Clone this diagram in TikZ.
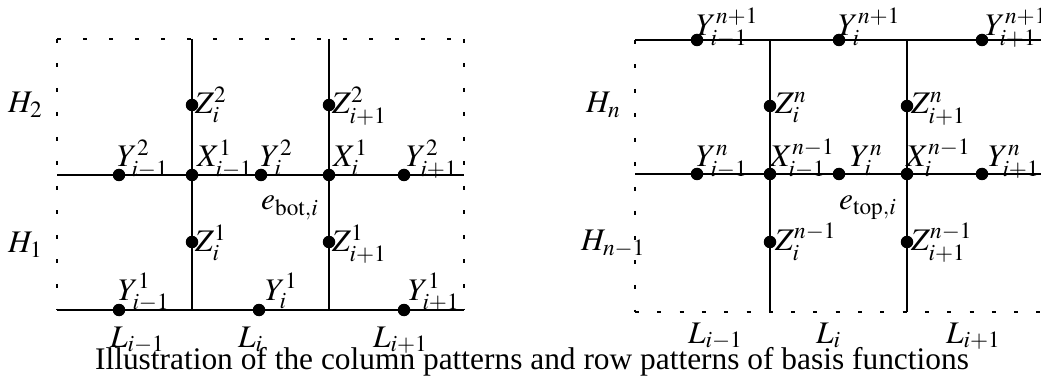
\documentclass[tikz,border=0pt]{standalone}
\usepackage{mathptmx}
\usepackage{fontspec}
\setmainfont{Liberation Serif}
\begin{document}
\begin{tikzpicture}[x=1pt,y=-1pt,
  font=\fontsize{31.4}{38}\selectfont,
  solid line/.style={line width=2pt},
  dash top/.style={line width=2pt,dash pattern=on 4pt off 22pt},
  dash side/.style={line width=2pt,dash pattern=on 4pt off 20.5pt},
  dash bot/.style={line width=2pt,dash pattern=on 4pt off 18.3pt},
  dot/.style={circle,fill=black,inner sep=0pt,minimum size=12.5pt},
  lab/.style={anchor=base west,inner sep=0pt}]
\useasboundingbox (0,0) rectangle (1041,379);
\clip (0,0) rectangle (1041,379);
% ---------- left grid ----------
\coordinate (LTL) at (57,39);   \coordinate (LTR) at (464,39);
\coordinate (LML) at (57,175);  \coordinate (LMR) at (464,175);
\coordinate (LBL) at (57,310);  \coordinate (LBR) at (464,310);
\coordinate (LAt) at (192,39);  \coordinate (LAb) at (192,310);
\coordinate (LBt) at (329,39);  \coordinate (LBb) at (329,310);
\draw[dash top] (LTL) -- (LTR);
\draw[dash side] (LTL) -- (LBL);
\draw[dash side] (LTR) -- (LBR);
\draw[solid line] (LML) -- (LMR);
\draw[solid line] (LBL) -- (LBR);
\draw[solid line] (LAt) -- (LAb);
\draw[solid line] (LBt) -- (LBb);
% dots
\node[dot] (Y2a) at (119,175) {};
\node[dot] (X1a) at (192,175) {};
\node[dot] (Y2b) at (261,175) {};
\node[dot] (X1b) at (329,175) {};
\node[dot] (Y2c) at (404,175) {};
\node[dot] (Z2a) at (192,105) {};
\node[dot] (Z2b) at (329,105) {};
\node[dot] (Z1a) at (192,242) {};
\node[dot] (Z1b) at (329,242) {};
\node[dot] (Y1a) at (119,310) {};
\node[dot] (Y1b) at (259,310) {};
\node[dot] (Y1c) at (404,310) {};
% labels
\node[lab] (lY2a) at (117,167) {$Y^2_{i-1}$};
\node[lab] (lX1a) at (197,167) {$X^1_{i-1}$};
\node[lab] (lY2b) at (260,167) {$Y^2_{i}$};
\node[lab] (lX1b) at (333,167) {$X^1_{i}$};
\node[lab] (lY2c) at (406,167) {$Y^2_{i+1}$};
\node[lab] (lZ2a) at (195,114) {$Z^2_{i}$};
\node[lab] (lZ2b) at (332,114) {$Z^2_{i+1}$};
\node[lab] (lZ1a) at (195,252) {$Z^1_{i}$};
\node[lab] (lZ1b) at (332,252) {$Z^1_{i+1}$};
\node[lab] (lY1a) at (118,300) {$Y^1_{i-1}$};
\node[lab] (lY1b) at (265,300) {$Y^1_{i}$};
\node[lab] (lY1c) at (408,300) {$Y^1_{i+1}$};
\node[lab] (ebot) at (261,210) {$e_{\mathrm{bot},i}$};
\node[lab] (H2) at (8,113) {$H_2$};
\node[lab] (H1) at (8,253) {$H_1$};
\node[lab] (La) at (110,347) {$L_{i-1}$};
\node[lab] (Lb) at (238,347) {$L_{i}$};
\node[lab] (Lc) at (373,347) {$L_{i+1}$};
% ---------- right grid ----------
\coordinate (RTL) at (635,40);  \coordinate (RTR) at (1042,40);
\coordinate (RML) at (635,174); \coordinate (RMR) at (1042,174);
\coordinate (RBL) at (635,312); \coordinate (RBR) at (1042,312);
\coordinate (RAt) at (770,40);  \coordinate (RAb) at (770,312);
\coordinate (RBt) at (907,40);  \coordinate (RBb) at (907,312);
\draw[solid line] (RTL) -- (RTR);
\draw[solid line] (RML) -- (RMR);
\draw[dash bot] (RBL) -- (RBR);
\draw[dash side] (RTL) -- (RBL);
\draw[dash side] (RTR) -- (RBR);
\draw[solid line] (RAt) -- (RAb);
\draw[solid line] (RBt) -- (RBb);
% dots
\node[dot] (Yn1a) at (697,40) {};
\node[dot] (Yn1b) at (839,40) {};
\node[dot] (Yn1c) at (982,40) {};
\node[dot] (Zna) at (770,106) {};
\node[dot] (Znb) at (907,106) {};
\node[dot] (Yna) at (697,174) {};
\node[dot] (Xa) at (770,174) {};
\node[dot] (Ynb) at (839,174) {};
\node[dot] (Xb) at (907,174) {};
\node[dot] (Ync) at (982,174) {};
\node[dot] (Zn1a) at (770,242) {};
\node[dot] (Zn1b) at (907,242) {};
% labels
\node[lab] (lYn1a) at (696,36) {$Y^{n+1}_{i-1}$};
\node[lab] (lYn1b) at (838,36) {$Y^{n+1}_{i}$};
\node[lab] (lYn1c) at (985,36) {$Y^{n+1}_{i+1}$};
\node[lab] (lZna) at (775,114) {$Z^{n}_{i}$};
\node[lab] (lZnb) at (911,114) {$Z^{n}_{i+1}$};
\node[lab] (lYna) at (696,167) {$Y^{n}_{i-1}$};
\node[lab] (lXa) at (770,167) {$X^{n-1}_{i-1}$};
\node[lab] (lYnb) at (850,167) {$Y^{n}_{i}$};
\node[lab] (lXb) at (906,167) {$X^{n-1}_{i}$};
\node[lab] (lYnc) at (988,167) {$Y^{n}_{i+1}$};
\node[lab] (lZn1a) at (775,251) {$Z^{n-1}_{i}$};
\node[lab] (lZn1b) at (911,251) {$Z^{n-1}_{i+1}$};
\node[lab] (etop) at (839,210) {$e_{\mathrm{top},i}$};
\node[lab] (Hn) at (586,113) {$H_n$};
\node[lab] (Hn1) at (581,251) {$H_{n-1}$};
\node[lab] (Ra) at (688,343) {$L_{i-1}$};
\node[lab] (Rb) at (816,343) {$L_{i}$};
\node[lab] (Rc) at (946,343) {$L_{i+1}$};
% caption
\node[anchor=base,inner sep=0pt] (cap) at (532,369) {Illustration of the column patterns and row patterns of basis functions};
\end{tikzpicture}
\end{document}
